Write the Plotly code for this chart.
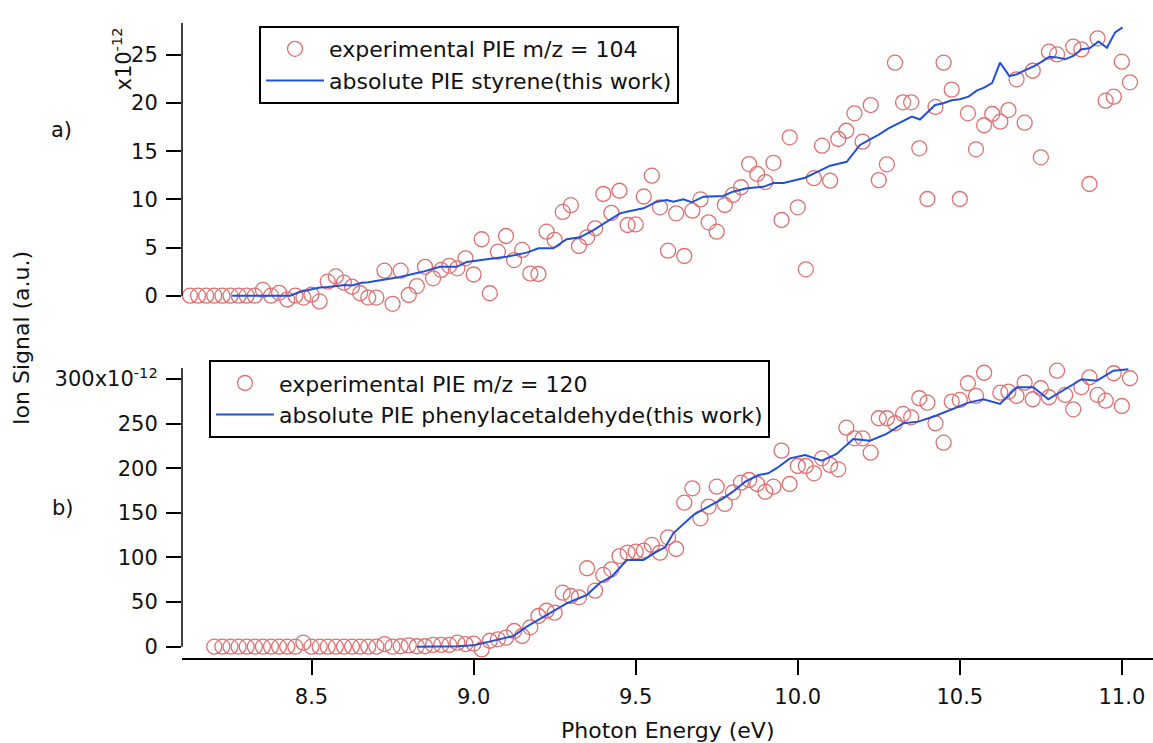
import plotly.graph_objects as go

# ---------------- data ----------------
# panel a) m/z = 104 (styrene), units of 1e-12
E_a = [round(8.100 + 0.025 * i, 3) for i in range(118)]
exp_a = [0, 0, 0, 0, 0, 0, 0, 0, 0, 0,
         0.6, 0, 0.3, -0.4, 0, -0.2, 0.1, -0.6,
         1.45, 2.0, 1.35, 0.93, 0.25, -0.2, -0.2, 2.6, -0.85, 2.6,
         0.07, 1.0, 3.0, 1.8, 2.67, 3.1, 2.84, 3.88, 2.2, 5.86,
         0.25, 4.57, 6.2, 3.7, 4.75, 2.3, 2.25, 6.65, 5.8, 8.7,
         9.4, 5.16, 6.06, 7.0, 10.56, 8.6, 10.9, 7.34, 7.4, 10.3,
         12.46, 9.18, 4.67, 8.55, 4.12, 8.83, 10.0, 7.62, 6.65, 9.42,
         10.46, 11.26, 13.67, 12.64, 11.8, 13.8, 7.86, 16.45, 9.18, 2.74,
         12.2, 15.58, 11.94, 16.27, 17.13, 18.94, 16.0, 19.8, 12.0, 13.64,
         24.2, 20.08, 20.08, 15.3, 10.04, 19.6, 24.2, 21.4, 10.04, 18.94,
         15.2, 17.7, 18.87, 18.07, 19.28, 22.47, 17.97, 23.36, 14.37, 25.34,
         25.06, 28.4, 25.86, 25.58, 11.6, 26.73, 20.25, 20.67, 24.3, 22.16]

model_a_E = [8.255, 8.30, 8.35, 8.40, 8.434, 8.465, 8.526, 8.55, 8.575, 8.603,
             8.625, 8.655, 8.675, 8.70, 8.75, 8.773, 8.845, 8.896, 8.948, 8.979,
             9.041, 9.102, 9.164, 9.20, 9.246, 9.287, 9.328, 9.37, 9.411, 9.452,
             9.483, 9.524, 9.565, 9.596, 9.616, 9.647, 9.673, 9.709, 9.77, 9.80,
             9.843, 9.894, 9.925, 9.956, 10.023, 10.054, 10.10, 10.151, 10.192, 10.223,
             10.249, 10.28, 10.326, 10.352, 10.377, 10.424, 10.449, 10.475, 10.50, 10.527,
             10.552, 10.575, 10.60, 10.624, 10.653, 10.676, 10.70, 10.727, 10.753, 10.776,
             10.80, 10.825, 10.85, 10.876, 10.90, 10.928, 10.954, 10.979, 11.002]
model_a = [0, 0, 0, 0, 0, 0.4, 0.85, 0.9, 1.0, 1.1,
           1.05, 1.35, 1.4, 1.55, 1.8, 1.95, 2.5, 3.0, 3.0, 3.5,
           3.78, 4.05, 4.47, 4.92, 4.92, 5.86, 6.06, 6.8, 7.7, 8.55,
           8.8, 9.07, 9.76, 9.94, 9.76, 10.0, 9.7, 10.28, 10.35, 10.8,
           11.15, 11.3, 11.7, 11.7, 12.25, 12.77, 13.5, 13.9, 15.65, 16.24,
           16.7, 17.38, 18.17, 18.6, 18.3, 19.8, 19.98, 20.3, 20.4, 20.67,
           21.3, 21.6, 22.1, 24.2, 22.8, 23.0, 23.4, 23.8, 24.3, 24.8,
           24.75, 24.55, 24.9, 25.6, 25.7, 26.4, 25.75, 27.35, 27.87]

# panel b) m/z = 120 (phenylacetaldehyde), units of 1e-12
E_b = [round(8.200 + 0.025 * i, 3) for i in range(114)]
exp_b = [0, 0, 0, 0, 0, 0, 0, 0, 0, 0,
         0, 4.5, 0, 0, 0, 0, 0, 0, 0, 0,
         0, 3, 0, 0.5, 1.5, 0.5, 0.5, 2, 2, 2,
         4.5, 3, 3.5,
         -3, 6.7, 8.3, 10.1, 17.6, 12, 21.7, 34.4, 40.3, 38.1,
         60.5, 56.8, 55.3, 87.9, 62.8, 80.4, 86.7, 101.6, 105.4, 106.5,
         107.6, 114, 105.4, 122.6, 109.5, 161.4, 177.5, 143.9, 157, 179.3,
         160, 173, 183.8, 186.8, 182.3,
         173.7, 179.3, 219.7, 182.3, 202.5, 202.5, 194.3, 211.1, 203.6, 198.8,
         245.4, 233.5, 233.5, 217.4, 256, 256, 250.4, 260.8, 257, 278.4,
         273.5, 250.4, 228.6, 274.6, 276.5, 295.2, 281, 307, 313.8, 284.7,
         285.8, 281, 295.9, 277.3, 289.6, 279.5, 309.3, 282.1, 266, 290.7,
         301.9, 282.1, 275.7, 306.4, 269.7, 300.8]

model_b_E = [8.825, 8.90, 8.95, 9.0, 9.123, 9.164, 9.226, 9.287, 9.349, 9.39,
             9.426, 9.473, 9.524, 9.565, 9.591, 9.616, 9.678, 9.724, 9.77, 9.80,
             9.838, 9.879, 9.909, 9.935, 9.976, 10.023, 10.074, 10.12, 10.171, 10.223,
             10.274, 10.326, 10.372, 10.424, 10.475, 10.527, 10.573, 10.624, 10.676, 10.727,
             10.773, 10.825, 10.876, 10.923, 10.974, 11.02]
model_b = [0, 0, 0.5, 1.5, 12, 22.4, 35.5, 48.6, 57.9, 71.7,
           78.5, 97.2, 97.2, 106.5, 111.4, 127, 147.6, 157, 166.3, 173.7,
           185, 192.4, 194.3, 200, 211, 214.8, 208.5, 216, 232.8, 230.9,
           238.4, 250.4, 252.2, 258.5, 266, 273.5, 277.3, 272, 290.7, 290.7,
           277.3, 288.5, 299.7, 298.1, 309.3, 310.9]

ticks_a = [0, 5, 10, 15, 20, 25]
ticks_a_text = ["0", "5", "10", "15", "20", "25"]
ticks_b = [0, 50, 100, 150, 200, 250, 300]
ticks_b_text = ["0", "50", "100", "150", "200", "250", "300x10<sup>-12</sup>"]
ticks_x = [8.5, 9.0, 9.5, 10.0, 10.5, 11.0]

# ---------------- style ----------------
FONT = "DejaVu Sans"
FS = 21
LFS = 22
RED = "#E07070"
BLUE = "#2150D8"
TXT = "#111"

fig = go.Figure()

marker = dict(symbol="circle-open", size=15, color=RED, line=dict(width=1.3, color=RED))

fig.add_trace(go.Scatter(x=E_a, y=exp_a, mode="markers", marker=marker,
                         name="experimental PIE m/z = 104", xaxis="x2", yaxis="y",
                         legend="legend", cliponaxis=False))
fig.add_trace(go.Scatter(x=model_a_E, y=model_a, mode="lines", line=dict(color=BLUE, width=2),
                         name="absolute PIE styrene(this work)", xaxis="x2", yaxis="y",
                         legend="legend", cliponaxis=False))
fig.add_trace(go.Scatter(x=E_b, y=exp_b, mode="markers", marker=marker,
                         name="experimental PIE m/z = 120", xaxis="x", yaxis="y2",
                         legend="legend2", cliponaxis=False))
fig.add_trace(go.Scatter(x=model_b_E, y=model_b, mode="lines", line=dict(color=BLUE, width=2),
                         name="absolute PIE phenylacetaldehyde(this work)", xaxis="x", yaxis="y2",
                         legend="legend2", cliponaxis=False))

xr = [8.1004, 11.096]
ya_range = [-1.49, 28.32]
yb_range = [-12.66, 312.3]

axis_common = dict(ticks="outside", ticklen=15, tickwidth=1.5, tickcolor="black",
                   showgrid=False, zeroline=False, ticklabelstandoff=4,
                   tickfont=dict(family=FONT, size=FS, color=TXT))

legend_common = dict(xanchor="left", yanchor="top", bordercolor="black", borderwidth=2,
                     bgcolor="white", font=dict(family=FONT, size=LFS, color=TXT),
                     tracegroupgap=0, itemwidth=58)

fig.update_layout(
    width=1153, height=743,
    margin=dict(l=182, r=0, t=23, b=85),
    paper_bgcolor="white", plot_bgcolor="white",
    font=dict(family=FONT, size=FS, color=TXT),
    xaxis=dict(domain=[0, 1], anchor="y2", range=xr, tickvals=ticks_x,
               tickformat=".1f", showline=True, linecolor="black", linewidth=1.5,
               **axis_common),
    xaxis2=dict(domain=[0, 1], anchor="y", range=xr, visible=False, matches="x"),
    yaxis=dict(domain=[0.548, 1], anchor="x2", range=ya_range, tickvals=ticks_a,
               ticktext=ticks_a_text, showline=False, **axis_common),
    yaxis2=dict(domain=[0, 0.4567], anchor="x", range=yb_range, tickvals=ticks_b,
                ticktext=ticks_b_text, showline=False, **axis_common),
    legend=dict(x=0.0793, y=0.9953, **legend_common),
    legend2=dict(x=0.0278, y=0.469, **legend_common),
    showlegend=True,
)

# vertical axis lines that stop at the zero tick (Igor-style)
fig.add_shape(type="line", xref="paper", yref="y", x0=0, x1=0, y0=0, y1=ya_range[1],
              line=dict(color="black", width=1.5))
fig.add_shape(type="line", xref="paper", yref="y2", x0=0, x1=0, y0=0, y1=yb_range[1],
              line=dict(color="black", width=1.5))

# annotations
ann = dict(xref="paper", yref="paper", showarrow=False, xanchor="center", yanchor="middle")
fig.add_annotation(text="x10<sup>-12</sup>", x=-0.0618, y=0.944, textangle=-90,
                   font=dict(family=FONT, size=FS, color=TXT), **ann)
fig.add_annotation(text="a)", x=-0.1236, y=0.8315,
                   font=dict(family=FONT, size=FS, color=TXT), **ann)
fig.add_annotation(text="b)", x=-0.1226, y=0.236,
                   font=dict(family=FONT, size=FS, color=TXT), **ann)
fig.add_annotation(text="Ion Signal (a.u.)", x=-0.1648, y=0.504, textangle=-90,
                   font=dict(family=FONT, size=LFS, color=TXT), **ann)
fig.add_annotation(text="Photon Energy (eV)", x=0.5, y=-0.1134,
                   font=dict(family=FONT, size=LFS, color=TXT), **ann)

fig.write_html("out.html", config={"displayModeBar": False},
               post_script="document.body.style.margin='0';")
